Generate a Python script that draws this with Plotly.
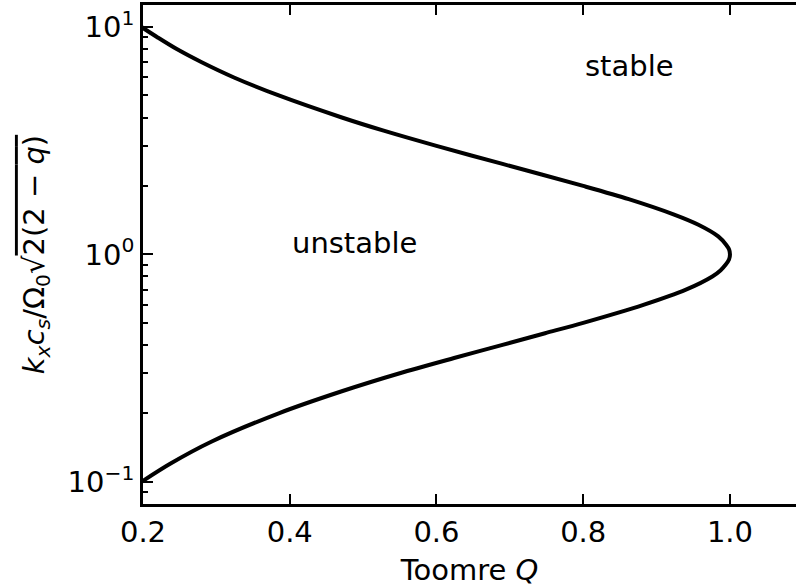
import math
import plotly.graph_objects as go

# Marginal stability curve: normalised wavenumber vs Toomre Q
wavenumber = [0.1, 0.12, 0.15, 0.2, 0.25, 0.3, 0.35, 0.4, 0.45, 0.5, 0.6, 0.7,
              0.8, 0.85, 0.9, 0.95, 1.0, 1.05, 1.1, 1.2, 1.35, 1.5, 1.75, 2.0,
              2.5, 3.0, 3.5, 4.0, 5.0, 6.0, 7.0, 8.0, 9.0, 10.0]
toomre_q = [0.198, 0.237, 0.293, 0.385, 0.471, 0.550, 0.624, 0.690, 0.748,
            0.800, 0.882, 0.940, 0.976, 0.987, 0.994, 0.9987, 1.000, 0.9988,
            0.995, 0.984, 0.957, 0.923, 0.862, 0.800, 0.690, 0.600, 0.528,
            0.471, 0.385, 0.324, 0.280, 0.246, 0.220, 0.198]

x_ticks = [0.2, 0.4, 0.6, 0.8, 1.0]
x_tick_text = ["0.2", "0.4", "0.6", "0.8", "1.0"]
y_ticks = [0.1, 1, 10]
y_tick_text = ["10<sup>−1</sup>", "10<sup>0</sup>", "10<sup>1</sup>"]
y_minor = [0.08, 0.09] + [m / 10 for m in range(2, 10)] + list(range(2, 10))

region_labels = [("stable", 0.8, 6.0), ("unstable", 0.4, 1.0)]

FONT = "DejaVu Sans"
FS = 29

fig = go.Figure()
fig.add_trace(go.Scatter(
    x=toomre_q, y=wavenumber, mode="lines",
    line=dict(color="black", width=4, shape="spline", smoothing=0.8),
    showlegend=False, hoverinfo="skip",
))

# annotation positions on a log axis are given in log10 units
for text, qx, ky in region_labels:
    fig.add_annotation(
        x=qx, y=math.log10(ky), xref="x", yref="y", text=text, showarrow=False,
        xanchor="left", yanchor="bottom", yshift=-8,
        font=dict(family=FONT, size=FS, color="black"),
    )

fig.update_xaxes(
    range=[0.2, 1.09], tickmode="array", tickvals=x_ticks, ticktext=x_tick_text,
    ticks="inside", ticklen=10, tickwidth=2, tickcolor="black",
    showline=True, linewidth=2.6, linecolor="black", mirror="ticks",
    showgrid=False, zeroline=False,
    tickfont=dict(family=FONT, size=FS, color="black"),
    title=dict(text="Toomre <i>Q</i>", standoff=13,
               font=dict(family=FONT, size=FS, color="black")),
)
fig.update_yaxes(
    type="log", range=[-1.098, 1.097], tickmode="array",
    tickvals=y_ticks, ticktext=y_tick_text,
    ticks="inside", ticklen=10, tickwidth=2, tickcolor="black",
    minor=dict(tickmode="array", tickvals=y_minor, ticks="inside",
               ticklen=5.5, tickwidth=1.6, tickcolor="black", showgrid=False),
    showline=True, linewidth=2.6, linecolor="black", mirror=False,
    showgrid=False, zeroline=False,
    tickfont=dict(family=FONT, size=FS, color="black"),
    title=dict(
        text="<i>k<sub>x</sub>c<sub>s</sub></i>/Ω<sub>0</sub>√"
             "<span style='text-decoration:overline'>2(2 − <i>q</i>)</span>",
        standoff=15, font=dict(family=FONT, size=FS, color="black")),
)

fig.update_layout(
    width=796, height=587,
    margin=dict(l=143, r=0, t=5, b=83),
    paper_bgcolor="white", plot_bgcolor="white",
    font=dict(family=FONT, color="black"),
)

fig.write_html("out.html")
